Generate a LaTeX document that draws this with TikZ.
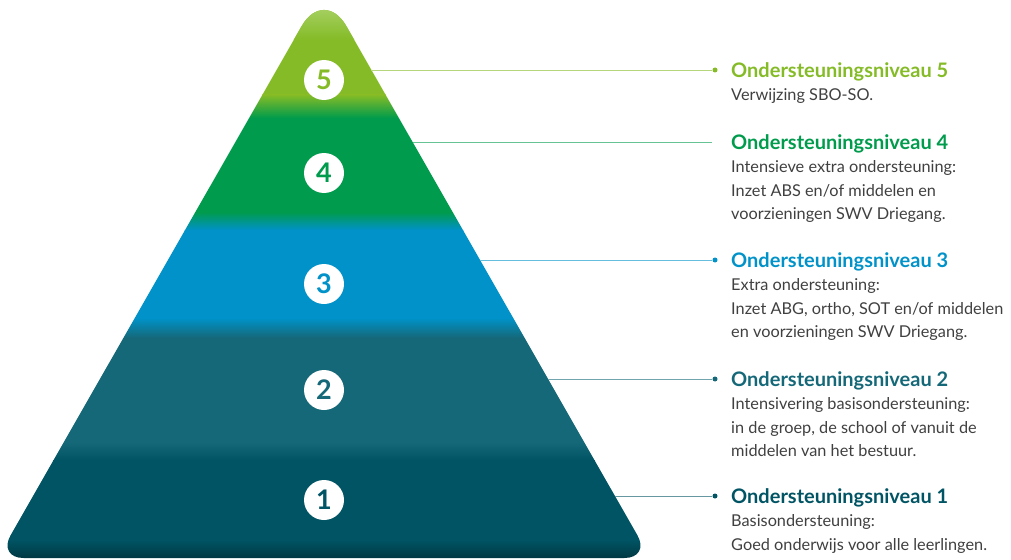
\documentclass[tikz,border=0pt]{standalone}
\usepackage{fontspec}
\setmainfont{Lato}
\usepackage{xcolor}
\usepackage{tikz}
\usetikzlibrary{calc}
\definecolor{c0}{RGB}{0,52,62}
\definecolor{c1}{RGB}{0,84,100}
\definecolor{c2}{RGB}{21,104,120}
\definecolor{c3}{RGB}{0,146,200}
\definecolor{c4}{RGB}{0,155,76}
\definecolor{c5}{RGB}{132,187,38}
\definecolor{c6}{RGB}{190,222,140}
\definecolor{grijs}{RGB}{64,64,64}

\begin{document}
\begin{tikzpicture}[x=1pt,y=-1pt]

        \tikzstyle{nummer} = [circle, fill=white, minimum size=40pt, inner sep=0pt, font=\fontsize{27}{27}\selectfont\bfseries]
        \tikzstyle{kop}    = [anchor=west, inner sep=0pt, font=\fontsize{20}{20}\selectfont\bfseries]
        \tikzstyle{tekst}  = [anchor=north west, inner sep=0pt, align=left, text=grijs, font=\fontsize{16.3}{23.5}\selectfont]
        \tikzstyle{stip}   = [circle, inner sep=0pt, minimum size=5pt]

        \useasboundingbox (0,0) rectangle (1011,559);

        \coordinate (top) at (324,-13);
        \coordinate (lo) at (-2.4,558);
        \coordinate (ro) at (650.4,558);
        \coordinate (t1) at ($(top)!45pt!(ro)$);
        \coordinate (t2) at ($(top)!45pt!(lo)$);
        \coordinate (r1) at ($(ro)!26pt!(top)$);
        \coordinate (r2) at ($(ro)!26pt!(lo)$);
        \coordinate (l1) at ($(lo)!26pt!(ro)$);
        \coordinate (l2) at ($(lo)!26pt!(top)$);

        \begin{scope}
                \clip (t1) -- (r1) .. controls ($(r1)!0.55!(ro)$) and ($(r2)!0.55!(ro)$) .. (r2)
                        -- (l1) .. controls ($(l1)!0.55!(lo)$) and ($(l2)!0.55!(lo)$) .. (l2)
                        -- (t2) .. controls ($(t2)!0.55!(top)$) and ($(t1)!0.55!(top)$) .. (t1) -- cycle;

                \foreach \n/\a/\b in {5/-15/95, 4/118/212, 3/230/318, 2/338/442, 1/460/540}
                {
                        \fill [c\n] (0,\a) rectangle (660,\b);
                }
                \foreach \p/\q/\a/\b in {6/5/-15/40, 5/4/95/118, 4/3/212/230, 3/2/318/338, 2/1/442/460, 1/0/540/560}
                {
                        \shade [top color=c\p, bottom color=c\q] (0,\a) rectangle (660,\b);
                }
        \end{scope}

        \foreach \n/\y/\c/\uitleg in {5/70/80/{Verwijzing SBO-SO.},
                4/142/173/{Intensieve extra ondersteuning:\\Inzet ABS en/of middelen en\\voorzieningen SWV Driegang.},
                3/260/284/{Extra ondersteuning:\\Inzet ABG, ortho, SOT en/of middelen\\en voorzieningen SWV Driegang.},
                2/379/390/{Intensivering basisondersteuning:\\in de groep, de school of vanuit de\\middelen van het bestuur.},
                1/496/500/{Basisondersteuning:\\Goed onderwijs voor alle leerlingen.}}
        {
                \node [nummer, text=c\n] (n\n) at (324,\c) {\n};

                \pgfmathsetmacro\ex{324+(\y+13)*0.5717}
                \coordinate (e\n) at (\ex,\y);

                \node [kop, text=c\n] (kop\n) at (731,\y+1.5) {Ondersteuningsniveau \n};
                \node [tekst] (tekst\n) at ($(kop\n.south west)+(0,7.5)$) {\uitleg};

                \ifnum \n=4
                        \coordinate (d\n) at (712,\y);
                \else
                        \node [stip, fill=c\n] (d\n) at (715,\y) {};
                \fi

                \draw [c\n!60, line width=0.8pt] (e\n) -- (d\n);
        }
\end{tikzpicture}
\end{document}
